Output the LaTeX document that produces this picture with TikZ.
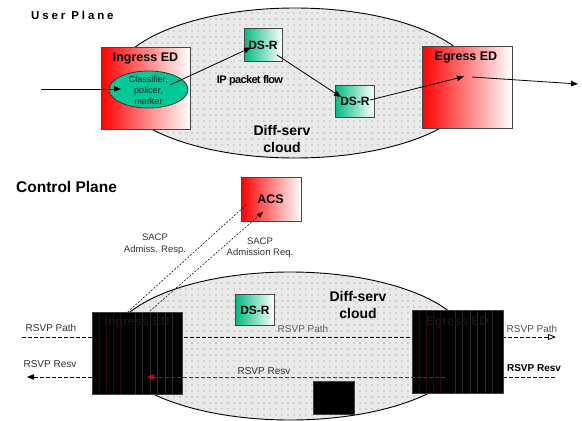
\documentclass[tikz,border=0pt]{standalone}
\usepackage{fontspec}
\setmainfont{Liberation Sans}
\newfontfamily\spacedfont[LetterSpace=25]{Liberation Sans}
\newfontfamily\tightfont[LetterSpace=-6]{Liberation Sans}
\usetikzlibrary{arrows.meta,shapes.geometric,patterns.meta}

\definecolor{cloudfill}{RGB}{234,234,234}
\definecolor{dotgray}{RGB}{135,135,135}
\definecolor{boxline}{RGB}{70,70,70}
\definecolor{dsgreen}{RGB}{0,185,130}
\definecolor{clsgreen}{RGB}{0,200,150}
\definecolor{labelgray}{RGB}{50,50,50}
\definecolor{stripered}{RGB}{48,8,8}
\definecolor{stripegray}{RGB}{42,42,42}
\definecolor{ghosttext}{RGB}{22,22,22}

\tikzset{
  txt/.style={inner sep=0pt, font=\fontsize{10}{12}\selectfont},
  btxt/.style={inner sep=0pt, font=\fontsize{12.5}{15}\selectfont\bfseries},
  cloudshape/.style={ellipse, draw=black, line width=0.9pt, inner sep=0pt,
    preaction={fill=cloudfill}, pattern={Dots[radius=0.6pt,distance=6pt]},
    pattern color=dotgray},
  redbox/.style={rectangle, draw=boxline, line width=0.8pt, inner sep=0pt,
    left color=red, right color=white},
  greenbox/.style={rectangle, draw=boxline, line width=0.8pt, inner sep=0pt,
    left color=dsgreen, right color=white},
  blackbox/.style={rectangle, draw=black!75, line width=0.6pt, fill=black, inner sep=0pt,
    path picture={
      \foreach \i in {7,14,21,28}
        \draw[stripered, line width=0.45pt]
          ([xshift=\i pt]path picture bounding box.south west) --
          ([xshift=\i pt]path picture bounding box.north west);
      \foreach \i in {43,50,58,65,73,80}
        \draw[stripegray, line width=0.45pt]
          ([xshift=\i pt]path picture bounding box.south west) --
          ([xshift=\i pt]path picture bounding box.north west);
    }},
  flow/.style={line width=0.8pt, -{Triangle[length=7pt,width=5.5pt]}},
  sacp/.style={line width=0.5pt, dash pattern=on 2pt off 1.5pt},
  rsvp/.style={line width=0.8pt, dash pattern=on 4pt off 2pt},
}

\begin{document}
\begin{tikzpicture}[x=1pt,y=-1pt]
\useasboundingbox[fill=white] (0,0) rectangle (582,421);

% ---------------- user plane ----------------
\node[anchor=west, inner sep=0pt, font=\fontsize{11.5}{13}\selectfont\spacedfont\bfseries] (userplane) at (31,15) {User Plane};

\node[cloudshape, minimum width=364pt, minimum height=150pt] (cloudU) at (295,83) {};
\node[txt, align=center, font=\fontsize{14}{17.5}\selectfont\bfseries] (cloudUtxt) at (282,139) {Diff-serv\\cloud};
\node[inner sep=0pt, font=\fontsize{11}{13}\selectfont\tightfont\bfseries] (ipflow) at (250,81) {IP packet flow};

\node[redbox, minimum width=89pt, minimum height=82pt] (ingU) at (145.5,88) {};
\node[btxt] (ingUtxt) at (145.5,59) {Ingress ED};
\node[ellipse, draw=black!80, line width=0.8pt, fill=clsgreen, inner sep=0pt,
      minimum width=79pt, minimum height=37pt] (cls) at (148.5,89.5) {};
\node[txt, align=center, font=\fontsize{9}{11}\selectfont, text=black!85] (clstxt) at (148.5,90.5) {Classifier,\\policer,\\marker};

\node[greenbox, minimum width=38pt, minimum height=33pt] (dsrA) at (263,44.5) {};
\node[btxt, font=\fontsize{12}{14}\selectfont\bfseries] (dsrAtxt) at (263,45) {DS-R};
\node[greenbox, minimum width=39pt, minimum height=32pt] (dsrB) at (354.5,101) {};
\node[btxt, font=\fontsize{12}{14}\selectfont\bfseries] (dsrBtxt) at (355,101.5) {DS-R};

\node[redbox, minimum width=90pt, minimum height=82pt] (egrU) at (467,87) {};
\node[btxt] (egrUtxt) at (466,58) {Egress ED};

\coordinate (srcU) at (41,89);
\coordinate (clsIn) at (121,89);
\coordinate (clsOut) at (170,85);
\coordinate (dsrAin) at (251,47.5);
\coordinate (dsrAout) at (277,55);
\coordinate (dsrBin) at (341,97);
\coordinate (dsrBout) at (370,100);
\coordinate (egrIn) at (464,76.5);
\coordinate (egrOut) at (472,77);
\coordinate (sinkU) at (578,84);

\draw[flow] (srcU) -- (clsIn);
\draw[flow] (clsOut) -- (dsrAin);
\draw[flow] (dsrAout) -- (dsrBin);
\draw[flow] (dsrBout) -- (egrIn);
\draw[flow] (egrOut) -- (sinkU);

% ---------------- control plane ----------------
\node[anchor=west, inner sep=0pt, font=\fontsize{15.5}{18}\selectfont\bfseries] (ctrlplane) at (16,187) {Control Plane};

\node[cloudshape, minimum width=360pt, minimum height=148pt] (cloudL) at (290,346) {};
\node[txt, align=center, font=\fontsize{14}{17}\selectfont\bfseries] (cloudLtxt) at (358,304.5) {Diff-serv\\cloud};

\node[greenbox, minimum width=39pt, minimum height=31pt] (dsrL) at (254.5,309.5) {};
\node[btxt, font=\fontsize{12}{14}\selectfont\bfseries] (dsrLtxt) at (255,310) {DS-R};

\node[redbox, minimum width=60pt, minimum height=44pt] (acs) at (271,199) {};
\node[btxt] (acstxt) at (270.5,199.5) {ACS};

\coordinate (acsResp) at (246,205);
\coordinate (ingResp) at (120,319);
\coordinate (ingReq) at (150,311);
\coordinate (acsReq) at (263,212);
\draw[sacp, -{Triangle[length=6pt,width=4.5pt]}] (acsResp) -- (ingResp);
\draw[sacp, -{Triangle[length=6pt,width=4.5pt]}] (ingReq) -- (acsReq);

\node[txt, align=center, font=\fontsize{9.5}{12}\selectfont, text=labelgray] (resptxt) at (155,244) {SACP\\Admiss. Resp.};
\node[txt, align=center, font=\fontsize{9.5}{11.5}\selectfont, text=labelgray] (reqtxt) at (260,247.5) {SACP\\Admission Req.};

% RSVP Path messages
\coordinate (pathSrc) at (22,337);
\coordinate (pathDst) at (556,337);
\draw[rsvp, -{Triangle[open,fill=white,length=8pt,width=6pt]}] (pathSrc) -- (pathDst);

% RSVP Resv messages (outer parts)
\coordinate (resvSrc) at (555,377);
\coordinate (resvEgr) at (472,377);
\coordinate (resvIng) at (128,377);
\coordinate (resvDst) at (27,377);
\draw[rsvp, -{Triangle[length=7pt,width=5.5pt]}] (resvSrc) -- (resvEgr);
\draw[rsvp, -{Triangle[length=7pt,width=5.5pt]}] (resvIng) -- (resvDst);

% edge devices
\node[blackbox, minimum width=90pt, minimum height=82pt] (ingL) at (137,353) {};
\node[btxt, text=ghosttext] (ingLtxt) at (137,323) {Ingress ED};
\node[blackbox, minimum width=91pt, minimum height=83pt] (egrL) at (457.5,351.5) {};
\node[btxt, text=ghosttext] (egrLtxt) at (457.5,323) {Egress ED};
\node[blackbox, minimum width=41pt, minimum height=33pt, path picture={}] (dsrLB) at (333.5,397.5) {};

% RSVP Resv inside the cloud
\coordinate (resvRedSrc) at (445,377);
\coordinate (resvRedDst) at (147,377);
\draw[rsvp, red!85!black, -{Triangle[length=7pt,width=5.5pt]}] (resvRedSrc) -- (resvRedDst);

\node[txt, text=labelgray] (pathL) at (51,328) {RSVP Path};
\node[txt, text=labelgray!80] (pathM) at (303,329) {RSVP Path};
\node[txt, text=labelgray!85] (pathR) at (532,329) {RSVP Path};
\node[txt, text=labelgray] (resvL) at (50,364) {RSVP Resv};
\node[txt, text=labelgray] (resvM) at (264,371) {RSVP Resv};
\node[txt, font=\fontsize{10}{12}\selectfont\bfseries] (resvR) at (534,368) {RSVP Resv};
\end{tikzpicture}
\end{document}
